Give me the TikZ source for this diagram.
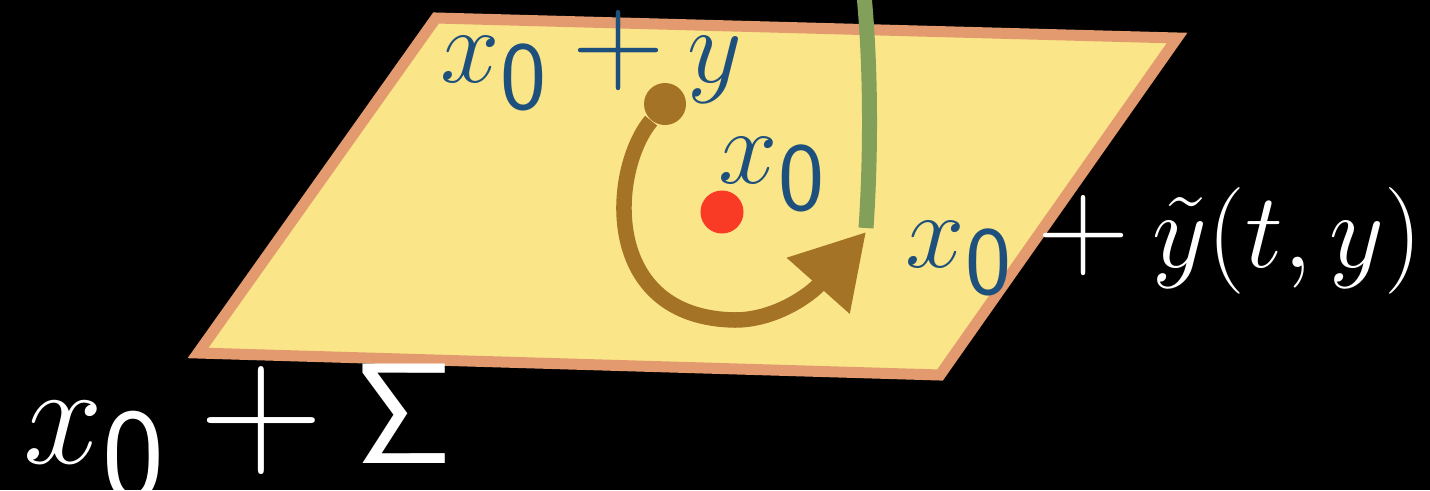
\documentclass[tikz,border=0pt]{standalone}
\usepackage{amsmath}
\usepackage{graphicx}
\usetikzlibrary{arrows.meta}
\definecolor{sheetfill}{RGB}{250,229,136}
\definecolor{sheetedge}{RGB}{227,154,110}
\definecolor{labelblue}{RGB}{30,80,125}
\definecolor{flowbrown}{RGB}{165,115,37}
\definecolor{orbitgreen}{RGB}{130,160,90}
\definecolor{pointred}{RGB}{249,58,36}
\newcommand{\xz}{x_{\raisebox{2.8pt}{\scalebox{1.1}{$\scriptstyle\mathsf{0}$}}}}
\newcommand{\bplus}{\mathbin{\scalebox{1.2}{$+$}}}

\begin{document}
\begin{tikzpicture}[
  lbl/.style={inner sep=0pt, anchor=base west, font=\Huge, scale=1.22},
  biglbl/.style={inner sep=0pt, anchor=base west, font=\Huge, scale=1.64},
  sheet/.style={fill=sheetfill, draw=sheetedge, line width=0.11cm},
  flow/.style={draw=flowbrown, line width=0.155cm,
    -{Triangle[length=0.72cm,width=0.8cm]}},
  orbit/.style={draw=orbitgreen, line width=0.15cm},
]
\useasboundingbox (0,0) rectangle (14.3,4.9);
\fill[black] (0,0) rectangle (14.3,4.9);

% the plane x_0 + Sigma
\draw[sheet] (4.36,4.72) -- (11.77,4.52) -- (9.40,1.15) -- (1.98,1.37) -- cycle;

\node[lbl, text=labelblue] (toplbl) at (4.40,4.08) {$\xz\bplus y$};
\node[lbl, text=labelblue] (midlbl) at (7.18,3.07) {$\xz$};
\node[lbl, text=white] (rightlbl) at (9.05,2.23)
  {$\textcolor{labelblue}{\xz}\bplus\tilde{y}(t,y)$};
\node[biglbl, text=white] (planelbl) at (0.22,0.27) {$\xz\bplus\mathsf{\Sigma}$};

\node[circle, fill=pointred, minimum size=0.43cm, inner sep=0pt] (x0) at (7.22,2.78) {};

% orbit coming in from above
\coordinate (greentop) at (8.64,4.95);
\coordinate (tipend) at (8.66,2.58);
\draw[orbit] (greentop) .. controls (8.72,4.1) and (8.70,3.2) .. (8.66,2.62);

% the flow y -> y~(t,y)
\node[circle, fill=flowbrown, minimum size=0.42cm, inner sep=0pt] (start) at (6.65,3.86) {};
\draw[flow] (start) .. controls (6.1,3.2) and (6.0,1.72) .. (7.35,1.70)
  .. controls (7.75,1.70) and (8.1,1.95) .. (tipend);
\end{tikzpicture}
\end{document}
